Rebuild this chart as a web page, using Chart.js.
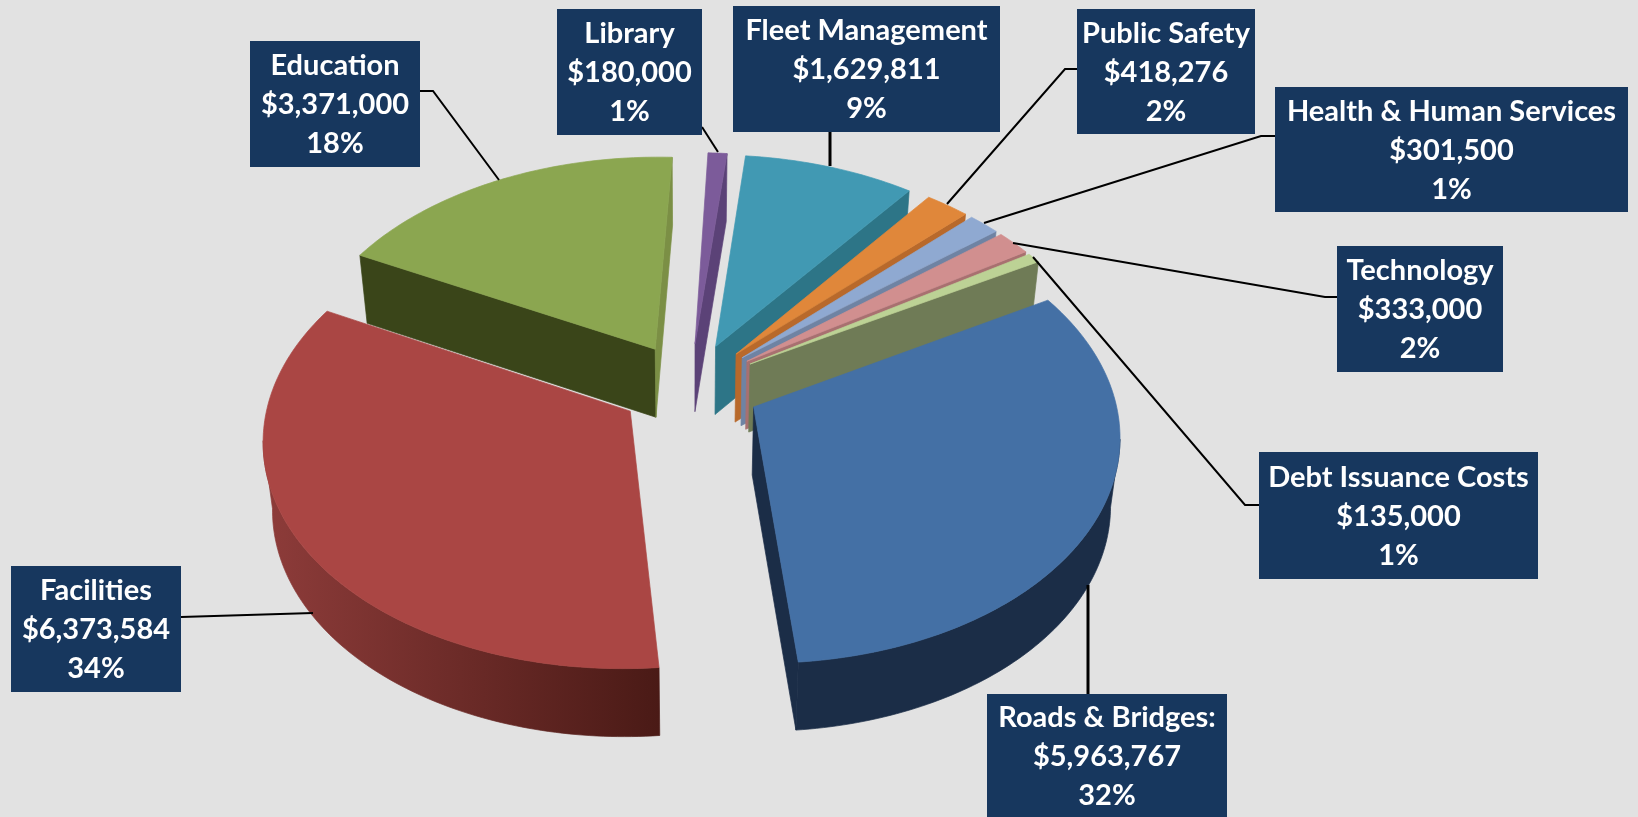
<!DOCTYPE html>
<html><head><meta charset="utf-8">
<script src="https://cdn.jsdelivr.net/npm/chart.js@4/dist/chart.umd.min.js"></script>
<style>html,body{margin:0;padding:0;background:#e2e2e2}canvas{display:block}</style>
</head><body><canvas id="c" width="1638" height="817"></canvas>
<script>
// ---- data (clockwise, starting just right of 12 o'clock) ----
const categories = ["Fleet Management","Public Safety","Health & Human Services","Technology","Debt Issuance Costs","Roads & Bridges:","Facilities","Education","Library"];
const budgetValues = [1629811,418276,301500,333000,135000,5963767,6373584,3371000,180000];
const amountLabels = ["$1,629,811","$418,276","$301,500","$333,000","$135,000","$5,963,767","$6,373,584","$3,371,000","$180,000"];
const percentLabels = ["9%","2%","1%","2%","1%","32%","34%","18%","1%"];

// ---- styles ----
const topColors  = ["#4199b3","#e0873a","#8fa9d1","#d18f8f","#bcd295","#4470a5","#aa4644","#8ba650","#7c5b9a"];
const rimLeft    = ["#2d7587","#b8692b","#6f83a3","#a87070","#6f7b56","#1b2d47","#8c3b39","#3a4519","#5b4277"];
const rimRight   = ["#2d7587","#b8692b","#6f83a3","#a87070","#6f7b56","#1b2d47","#4a1a16","#3a4519","#5b4277"];
const startFace  = ["#2d7587","#b8692b","#6f83a3","#a87070","#6f7b56","#1b2d47","#8c3b39","#3a4519","#6a4f88"];
const endFace    = ["#2d7587","#b8692b","#6f83a3","#a87070","#6f7b56","#1b2d47","#8c3b39","#7b8f45","#5b4277"];
const boxColor = "#17375e";

// ---- layout of callouts: box [x,y,w,h], leader polyline, leader width ----
const boxes = [[733,6,267,126],[1077,9,178,125],[1275,87,353,125],[1337,246,166,126],[1259,452,279,127],[987,694,240,123],[11,566,170,126],[250,41,170,126],[557,9,145,126]];
const leaders = [
 [[830,132],[830,166]],
 [[1077,69],[1065,69],[947,204]],
 [[1275,136],[1261,136],[984,223]],
 [[1337,297],[1325,297],[1013,243]],
 [[1259,505],[1245,505],[1033,257]],
 [[1088,694],[1088,585]],
 [[181,617],[313,613]],
 [[420,91],[433,91],[499,180]],
 [[702,127],[718,152]]
];
const leaderWidths = [3,2,2,2,2,3,2,2,2];

// ---- 3D projection settings ----
const SCALE = 1.121, TILT = 0.618, PERSP = 3150, DEPTH = 68, CONVERGE = 0.022;
const FONT = 'bold 29px Lato, "Open Sans", sans-serif', LINE_H = 39;

function proj(el, mx, my, z){
  const X = mx*SCALE, Y = my*SCALE, p = 1/(1 - Y/PERSP);
  const x = X*p*(1 - CONVERGE*z);
  return [el.x + x, el.y + TILT*Y*p + DEPTH*z];
}
function fillPoly(ctx, pts, color){
  ctx.beginPath();
  pts.forEach((q,i)=> i ? ctx.lineTo(q[0],q[1]) : ctx.moveTo(q[0],q[1]));
  ctx.closePath();
  ctx.fillStyle = color; ctx.strokeStyle = color; ctx.lineWidth = 0.7;
  ctx.fill(); ctx.stroke();
}
function drawSlice(ctx, el, i){
  const a0 = el.startAngle, a1 = el.endAngle, mid = (a0+a1)/2, R = el.outerRadius;
  const off = el.options.offset, ox = Math.cos(mid)*off, oy = Math.sin(mid)*off;
  const model = [[ox,oy]], n = Math.max(3, Math.ceil((a1-a0)/(Math.PI/180)));
  for(let k=0;k<=n;k++){ const a=a0+(a1-a0)*k/n; model.push([ox+R*Math.cos(a), oy+R*Math.sin(a)]); }
  const top = model.map(m=>proj(el,m[0],m[1],0));
  const low = model.map(m=>proj(el,m[0],m[1],1));
  const last = top.length-1;
  // radial faces
  if(top[1][0]-top[0][0] < 0) fillPoly(ctx,[top[0],top[1],low[1],low[0]],startFace[i]);
  if(top[0][0]-top[last][0] < 0) fillPoly(ctx,[top[last],top[0],low[0],low[last]],endFace[i]);
  // outer wall: one polygon per contiguous run of rim edges that face the viewer
  const xs = low.map(q=>q[0]);
  const grad = ctx.createLinearGradient(Math.min(...xs),0,Math.max(...xs),0);
  grad.addColorStop(0,rimLeft[i]); grad.addColorStop(1,rimRight[i]);
  let run = [];
  const flush = ()=>{ if(run.length>1){ fillPoly(ctx,[...run.map(k=>top[k]),...run.slice().reverse().map(k=>low[k])],grad);} run=[]; };
  for(let e=1;e<last;e++){
    if(top[e+1][0]-top[e][0] < 0){ if(!run.length) run.push(e); run.push(e+1); }
    else flush();
  }
  flush();
  fillPoly(ctx,top,topColors[i]);
}
const pie3d = {
  id:'pie3d',
  beforeDatasetsDraw(chart){
    const ctx = chart.ctx, meta = chart.getDatasetMeta(0);
    const order = meta.data.map((_,i)=>i).sort((a,b)=>{
      const m=e=>(e.startAngle+e.endAngle)/2;
      return Math.sin(m(meta.data[a]))-Math.sin(m(meta.data[b]));
    });
    ctx.save();
    order.forEach(i=>drawSlice(ctx,meta.data[i],i));
    // leaders
    ctx.strokeStyle='#000'; ctx.lineJoin='miter';
    leaders.forEach((l,i)=>{ctx.lineWidth=leaderWidths[i];ctx.beginPath();l.forEach((q,k)=>k?ctx.lineTo(q[0],q[1]):ctx.moveTo(q[0],q[1]));ctx.stroke();});
    // callouts
    ctx.font=FONT; ctx.textAlign='center'; ctx.textBaseline='middle';
    categories.forEach((c,i)=>{
      const b=boxes[i]; ctx.fillStyle=boxColor; ctx.fillRect(b[0],b[1],b[2],b[3]);
      ctx.fillStyle='#fff';
      const cx=b[0]+b[2]/2, cy=b[1]+b[3]/2;
      ctx.fillText(c,cx,cy-LINE_H+1); ctx.fillText(amountLabels[i],cx,cy+1); ctx.fillText(percentLabels[i],cx,cy+LINE_H+1);
    });
    ctx.restore();
    return false;
  }
};
new Chart(document.getElementById('c'),{
  type:'pie',
  data:{labels:categories,datasets:[{data:budgetValues,backgroundColor:topColors,borderWidth:0,offset:63.3,rotation:5.9}]},
  options:{responsive:false,animation:false,radius:320.5,
    layout:{padding:{left:0,top:0,right:258,bottom:44}},
    plugins:{legend:{display:false},tooltip:{enabled:false}}},
  plugins:[pie3d]
});
</script></body></html>
